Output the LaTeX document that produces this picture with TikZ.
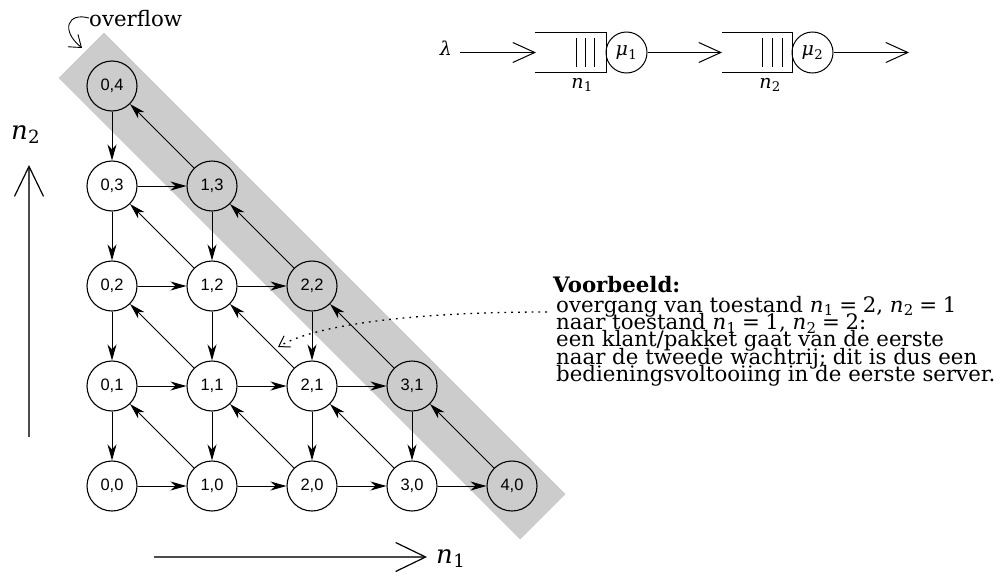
\documentclass[tikz,border=0pt]{standalone}
\usepackage{fontspec}
\setmainfont{DejaVu Serif}
\newfontfamily\sansnode{Liberation Sans}
\usetikzlibrary{arrows.meta}
\definecolor{bandgray}{gray}{0.8}
\definecolor{axisgray}{gray}{0.3}
\newcommand\txtfont{\fontsize{21.3}{17.3}\selectfont}
\newcommand\symfont{\fontsize{19}{22}\selectfont}
\newcommand\axisfont{\fontsize{26}{30}\selectfont}
% italic variable with subscript, set in the text font
\newcommand\var[2]{\textit{#1}\kern0.3pt\textsubscript{#2}}
\newcommand\eqsp{\hspace{0.26em}=\hspace{0.26em}}
\tikzset{
  state/.style={circle,draw,line width=1.1pt,minimum size=50pt,inner sep=0pt,font=\sansnode\fontsize{16.5}{18}\selectfont},
  tr/.style={line width=0.9pt,-{Stealth[length=16pt,width=9pt,inset=5pt]}},
  qline/.style={line width=1pt},
  qarr/.style={line width=1pt,-{Straight Barb[length=22pt,width=20pt]}},
  server/.style={circle,draw,line width=1pt,minimum size=41pt,inner sep=0pt,font=\symfont},
  axisarr/.style={draw=axisgray,line width=1.2pt,-{Straight Barb[length=30pt,width=29pt,color=black]}},
  txtline/.style={anchor=base west,inner sep=0pt,font=\txtfont},
  smallbarb/.style={line width=0.9pt,-{Straight Barb[length=11pt,width=16pt]}}
}
\begin{document}
\begin{tikzpicture}[x=1pt,y=-1pt]
\useasboundingbox (0,0) rectangle (1000,573);

% overflow band
\fill[bandgray] (103.9,32.6) -- (565.4,494.1) -- (520.1,539.4) -- (58.6,77.9) -- cycle;

% states
\foreach \i in {0,...,4}{
  \foreach \j in {0,...,4}{
    \pgfmathtruncatemacro\s{\i+\j}
    \ifnum\s<4
      \node[state,fill=white] (n\i\j) at ({112+100*\i},{486-100*\j}) {\i,\j};
    \else\ifnum\s=4
      \node[state] (n\i\j) at ({112+100*\i},{486-100*\j}) {\i,\j};
    \fi\fi
  }
}

% transitions
\foreach \i in {0,...,4}{
  \foreach \j in {0,...,4}{
    \pgfmathtruncatemacro\s{\i+\j}
    \pgfmathtruncatemacro\ip{\i+1}
    \pgfmathtruncatemacro\im{\i-1}
    \pgfmathtruncatemacro\jp{\j+1}
    \pgfmathtruncatemacro\jm{\j-1}
    \ifnum\s<4 \draw[tr] (n\i\j) -- (n\ip\j); \fi
    \ifnum\s<5 \ifnum\j>0 \draw[tr] (n\i\j) -- (n\i\jm); \fi\fi
    \ifnum\s<5 \ifnum\i>0 \draw[tr] (n\i\j) -- (n\im\jp); \fi\fi
  }
}

% queue system
\node[font=\symfont,inner sep=0pt] (lam) at (446,48) {\textit{λ}};
\coordinate (q1in) at (536,52.5);
\draw[qarr,shorten <=8pt] (lam.east |- q1in) -- (q1in);
\draw[qline] (535,32) -| (606,72) -- (535,72);
\foreach \x in {576,585,594} \draw[qline] (\x,38) -- (\x,67);
\node[server] (mu1) at (626.5,52.5) {\var{μ}{1}};
\coordinate (q2in) at (722,52.5);
\draw[qarr] (mu1) -- (q2in);
\draw[qline] (722,32) -| (792,72) -- (722,72);
\foreach \x in {762,772,782} \draw[qline] (\x,38) -- (\x,67);
\node[server] (mu2) at (812.5,52.5) {\var{μ}{2}};
\coordinate (qout) at (909,52.5);
\draw[qarr] (mu2) -- (qout);
\node[anchor=base,inner sep=0pt,font=\symfont] (lb1) at (582,88) {\var{n}{1}};
\node[anchor=base,inner sep=0pt,font=\symfont] (lb2) at (770,88) {\var{n}{2}};

% axes
\coordinate (ya) at (29,437);
\coordinate (yb) at (29,165);
\draw[axisarr] (ya) -- (yb);
\node[anchor=base west,inner sep=0pt,font=\axisfont] (n2lab) at (11,139) {\var{n}{2}};
\coordinate (xa) at (154,557);
\coordinate (xb) at (427,557);
\draw[axisarr] (xa) -- (xb);
\node[anchor=base west,inner sep=0pt,font=\axisfont] (n1lab) at (436,563) {\var{n}{1}};

% example text
\node[txtline] (t0) at (553,292) {\textbf{Voorbeeld:}};
\node[txtline] (t1) at (556,312) {overgang van toestand \var{n}{1}\eqsp 2, \var{n}{2}\eqsp 1};
\node[txtline] (t2) at (556,329.3) {naar toestand \var{n}{1}\eqsp 1, \var{n}{2}\eqsp 2:};
\node[txtline] (t3) at (556,346.6) {een klant/pakket gaat van de eerste};
\node[txtline] (t4) at (556,364) {naar de tweede wachtrij; dit is dus een};
\node[txtline] (t5) at (556,381.3) {bedieningsvoltooiing in de eerste server.};

\coordinate (dend) at (278,347);
\draw[line width=1.3pt,dash pattern=on 1.8pt off 5pt,-{Straight Barb[length=10pt,width=13pt,line width=1pt]}]
  ([xshift=-9pt]t1.base west) .. controls (430,312) and (320,322) .. (dend);

% overflow label
\node[anchor=base west,inner sep=0pt,font=\txtfont] (ovf) at (89,26) {overflow};
\coordinate (ovtip) at (82,48);
\draw[smallbarb] (ovf.west) .. controls (68,12) and (60,30) .. (ovtip);
\end{tikzpicture}
\end{document}
